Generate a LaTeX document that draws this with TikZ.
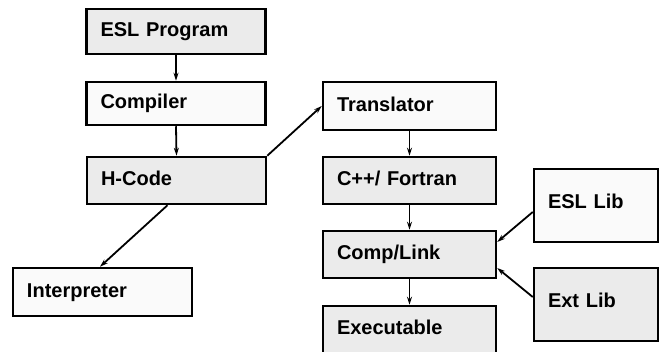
\documentclass[tikz,border=0pt]{standalone}
\usepackage{fontspec}
\setmainfont{Liberation Sans}
\usetikzlibrary{arrows.meta}
\definecolor{boxgray}{HTML}{EBEBEB}
\definecolor{boxlight}{HTML}{FAFAFA}
\tikzset{
  stage/.style={draw=black, line width=2.5pt, rectangle, inner xsep=14pt, inner ysep=0pt,
    align=left, font=\fontsize{20}{24}\selectfont\bfseries,
    text height=14.5pt, text depth=4.2pt},
  graybox/.style={stage, fill=boxgray},
  lightbox/.style={stage, fill=boxlight},
  libbox/.style={text depth=9pt},
  flow/.style={line width=1.8pt, -{Stealth[length=8pt,width=5pt]}}
}
\begin{document}
\begin{tikzpicture}[x=1pt,y=-1pt]
\useasboundingbox (0,0) rectangle (659,352);
% left column
\node[graybox, minimum width=179pt, minimum height=45pt, text width=151pt] (esl) at (176,31.5) {ESL Program};
\node[lightbox, minimum width=179pt, minimum height=43pt, text width=151pt] (comp) at (176,103.5) {Compiler};
\node[graybox, minimum width=179pt, minimum height=47pt, text width=151pt] (hcode) at (176.5,180.5) {H-Code};
\node[lightbox, minimum width=179pt, minimum height=48pt, text width=151pt] (interp) at (102.5,292) {Interpreter};
% right column
\node[lightbox, minimum width=173pt, minimum height=48pt, text width=145pt] (trans) at (409.5,106) {Translator};
\node[graybox, minimum width=173pt, minimum height=47pt, text width=145pt] (cpp) at (409.5,180.5) {C++/ Fortran};
\node[graybox, minimum width=173pt, minimum height=47pt, text width=145pt] (link) at (409.5,254.5) {Comp/Link};
\node[graybox, minimum width=173pt, minimum height=56pt, text width=145pt, text depth=13pt] (exe) at (409.5,334) {Executable};
% libraries
\node[lightbox, libbox, minimum width=124pt, minimum height=73pt, text width=96pt] (esllib) at (596,205.5) {ESL Lib};
\node[graybox, libbox, minimum width=124pt, minimum height=73pt, text width=96pt] (extlib) at (596,304.5) {Ext Lib};
% connectors
\draw[flow] (esl.south) -- (comp.north);
\draw[flow] (comp.south) -- (hcode.north);
\draw[flow] (hcode.north east) -- (trans.west);
\draw[flow] ([xshift=-9pt]hcode.south) -- ([xshift=-2.5pt]interp.north);
\draw[flow] (trans.south) -- (cpp.north);
\draw[flow] (cpp.south) -- (link.north);
\draw[flow] (link.south) -- (exe.north);
\draw[flow] ([yshift=-6.5pt]esllib.west) -- ([yshift=12.5pt]link.east);
\draw[flow] ([yshift=7.5pt]extlib.west) -- ([yshift=-13.5pt]link.east);
\end{tikzpicture}
\end{document}
